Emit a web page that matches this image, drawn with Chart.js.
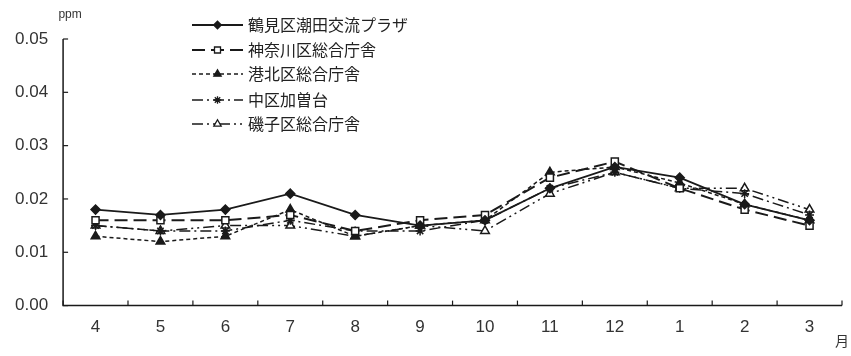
<!DOCTYPE html>
<html>
<head>
<meta charset="utf-8">
<script src="https://cdn.jsdelivr.net/npm/chart.js@4"></script>
<style>
html,body{margin:0;padding:0;background:#fff;}
#wrap{width:851px;height:356px;position:relative;}
</style>
</head>
<body>
<div id="wrap"><canvas id="c" width="851" height="356"></canvas></div>
<script>
const months = ['4','5','6','7','8','9','10','11','12','1','2','3'];
const yTicks = [0, 0.01, 0.02, 0.03, 0.04, 0.05];
const seriesNames = ['鶴見区潮田交流プラザ','神奈川区総合庁舎','港北区総合庁舎','中区加曽台','磯子区総合庁舎'];
const tsurumi  = [0.018,0.017,0.018,0.021,0.017,0.015,0.016,0.022,0.026,0.024,0.019,0.016];
const kanagawa = [0.016,0.016,0.016,0.017,0.014,0.016,0.017,0.024,0.027,0.022,0.018,0.015];
const kohoku   = [0.013,0.012,0.013,0.018,0.013,0.015,0.016,0.025,0.026,0.023,0.019,0.016];
const naka     = [0.015,0.014,0.014,0.016,0.014,0.014,0.016,0.022,0.025,0.022,0.021,0.017];
const isogo    = [0.015,0.014,0.015,0.015,0.013,0.015,0.014,0.021,0.025,0.022,0.022,0.018];

const ink = '#1a1a1a';
const tickFont = {family:'"Liberation Sans", Arial, sans-serif', size:17};
const cjk = '"Noto Sans CJK JP", sans-serif';

const styles = [
  {dash:[], style:'rectRot', r:4.5, fill:ink, w:1.8},
  {dash:[13,6], style:'rect', r:5, fill:'#fff', w:2},
  {dash:[4,3], style:'triangle', r:5, fill:ink, w:1.5},
  {dash:[11,4,2,4], style:'star', r:4.5, fill:ink, w:1.5},
  {dash:[11,4,2,4,2,4], style:'triangle', r:5, fill:'#fff', w:1.5}
];
const dataArr = [tsurumi, kanagawa, kohoku, naka, isogo];

const datasets = dataArr.map((d,i)=>({
  label: seriesNames[i],
  data: d,
  borderColor: ink,
  borderWidth: styles[i].w,
  borderDash: styles[i].dash,
  pointStyle: styles[i].style,
  pointRadius: styles[i].r,
  pointBackgroundColor: styles[i].fill,
  pointBorderColor: ink,
  pointBorderWidth: 1.5,
  tension: 0,
  fill: false,
  order: i
}));

const decor = {
  id:'decor',
  afterDraw(chart){
    const ctx = chart.ctx;
    const xs = chart.scales.x, ys = chart.scales.y;
    const ca = chart.chartArea;
    ctx.save();
    ctx.strokeStyle = ink; ctx.lineWidth = 1.5; ctx.setLineDash([]);
    ctx.beginPath();
    ctx.moveTo(ca.left, ca.top); ctx.lineTo(ca.left, ca.bottom); ctx.lineTo(ca.right, ca.bottom);
    ctx.stroke();
    ctx.lineWidth = 1.2;
    yTicks.forEach(v=>{
      const y = ys.getPixelForValue(v);
      ctx.beginPath(); ctx.moveTo(ca.left, y); ctx.lineTo(ca.left+5, y); ctx.stroke();
    });
    const n = months.length;
    for(let i=0;i<=n;i++){
      let x;
      if(i===0) x = ca.left; else if(i===n) x = ca.right;
      else x = (xs.getPixelForTick(i-1)+xs.getPixelForTick(i))/2;
      ctx.beginPath(); ctx.moveTo(x, ca.bottom); ctx.lineTo(x, ca.bottom-5); ctx.stroke();
    }
    ctx.fillStyle = '#333';
    ctx.font = '12px "Liberation Sans", Arial, sans-serif';
    ctx.textAlign = 'center'; ctx.textBaseline = 'middle';
    ctx.fillText('ppm', ca.left+7, 15);
    ctx.font = '14px ' + cjk;
    ctx.fillText('月', ca.right, 341);
    const lx0 = 192, lx1 = 243, tx = 248;
    const rows = [25, 50, 74, 100, 124];
    chart.data.datasets.forEach((ds,i)=>{
      const y = rows[i];
      ctx.strokeStyle = ink; ctx.lineWidth = ds.borderWidth;
      ctx.setLineDash(ds.borderDash);
      ctx.beginPath(); ctx.moveTo(lx0, y); ctx.lineTo(lx1, y); ctx.stroke();
      ctx.setLineDash([]);
      ctx.fillStyle = ds.pointBackgroundColor; ctx.strokeStyle = ink; ctx.lineWidth = 1.3;
      Chart.helpers.drawPoint(ctx, {pointStyle: ds.pointStyle, radius: ds.pointRadius*0.85, borderWidth:1.3, rotation:0}, (lx0+lx1)/2, y);
      ctx.fillStyle = '#222';
      ctx.font = '16px ' + cjk;
      ctx.textAlign = 'left'; ctx.textBaseline = 'middle';
      ctx.fillText(ds.label, tx, y);
    });
    ctx.restore();
  }
};

new Chart(document.getElementById('c'), {
  type:'line',
  data:{labels: months, datasets},
  options:{
    responsive:false,
    animation:false,
    layout:{padding:{left:0, right:9, top:39, bottom:6}},
    plugins:{legend:{display:false}, tooltip:{enabled:false}},
    scales:{
      x:{
        offset:true,
        grid:{display:false, drawTicks:false},
        border:{display:false},
        ticks:{color:'#333', font:tickFont, padding:12, maxRotation:0, autoSkip:false}
      },
      y:{
        min:0, max:0.05,
        afterBuildTicks(scale){ scale.ticks = yTicks.map(v=>({value:v})); },
        grid:{display:false, drawTicks:false},
        border:{display:false},
        ticks:{color:'#333', font:tickFont, padding:15, callback:v=>Number(v).toFixed(2)}
      }
    }
  },
  plugins:[decor]
});
</script>
</body>
</html>
